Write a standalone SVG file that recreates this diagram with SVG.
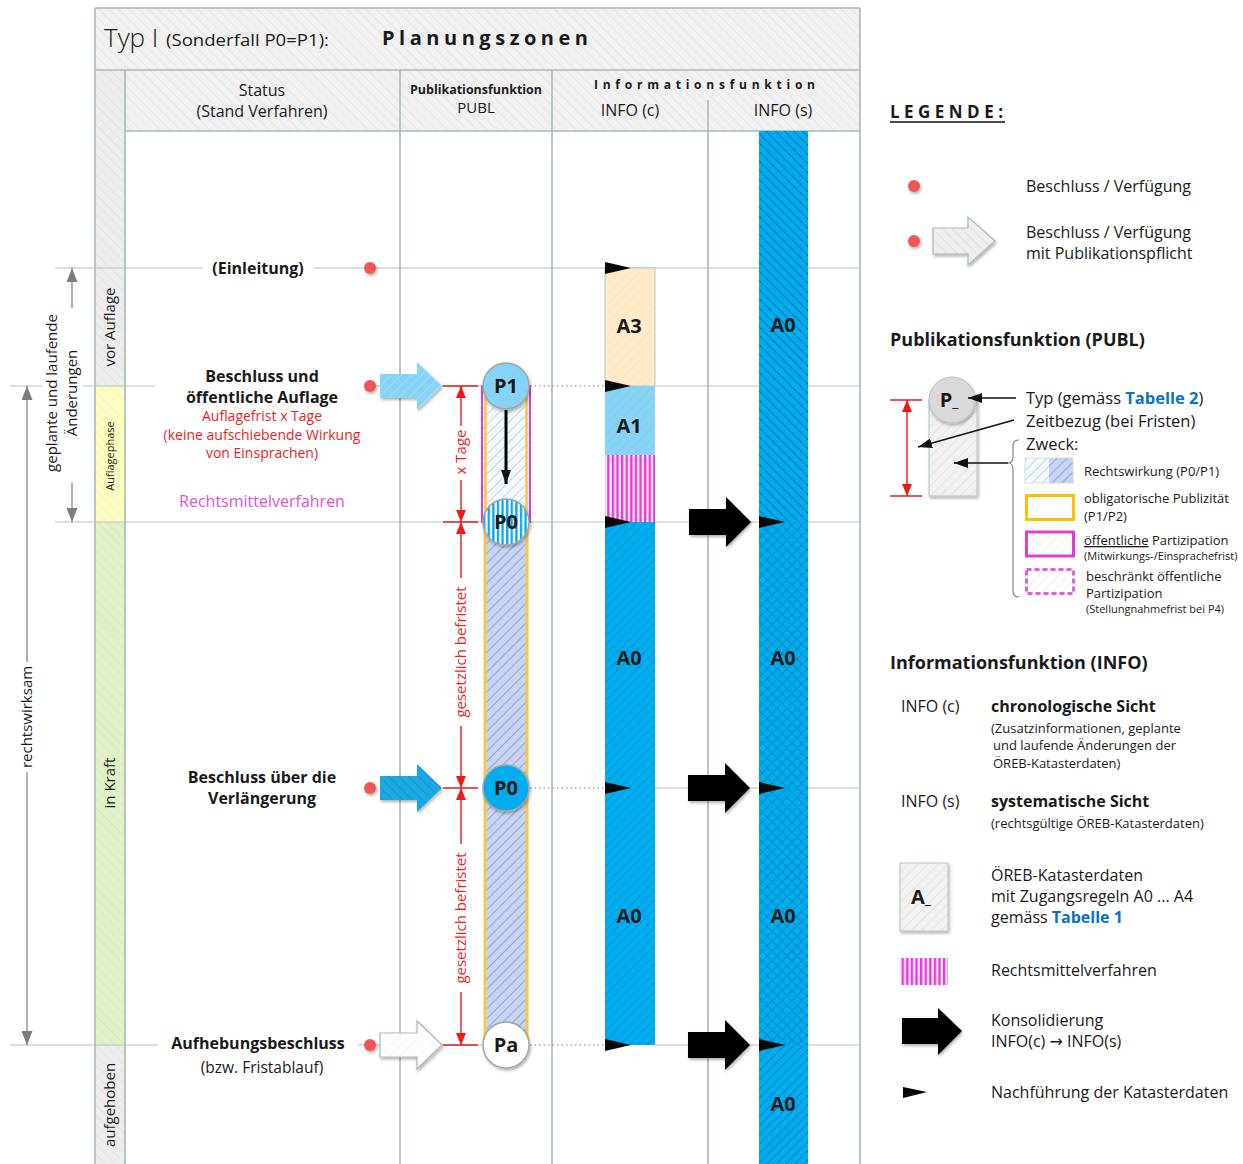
<svg xmlns="http://www.w3.org/2000/svg" width="1243" height="1164" viewBox="0 0 1243 1164">
<style>
text{font-family:"Open Sans","Noto Sans","DejaVu Sans",sans-serif;fill:#1a1a1a;font-size:16px}
.b{font-weight:700}
.c{text-anchor:middle}
.red{fill:#f01c1c}
.grid{stroke:#b4c4bc;stroke-width:1.2;fill:none}
.vl{stroke:#a8bab2;stroke-width:1.6;fill:none}
.dot{fill:#f05656;filter:url(#sh)}
.dotted{stroke:#7a8a84;stroke-width:1.2;stroke-dasharray:1.5 3;fill:none}
.rl{stroke:#f01818;stroke-width:1.4;fill:none}
.gl{stroke:#7d7d7d;stroke-width:1.2;fill:none}
.lbl{font-size:20px;font-weight:700;text-anchor:middle}
.circ{stroke:#9aa7a2;stroke-width:1.5;filter:url(#sh)}
.small{font-size:13px}
.tiny{font-size:11px}
.dimt{font-size:15px}
</style>
<defs>
<filter id="sh" x="-30%" y="-30%" width="170%" height="170%"><feDropShadow dx="1.2" dy="2" stdDeviation="1.5" flood-color="#000" flood-opacity="0.3"/></filter>
<pattern id="pHead" width="7" height="7" patternUnits="userSpaceOnUse" patternTransform="rotate(-45)"><rect width="7" height="7" fill="#f1f1f1"/><line x1="0" y1="0" x2="0" y2="7" stroke="#e3e3e3" stroke-width="1.5"/></pattern>
<pattern id="pGray" width="7" height="7" patternUnits="userSpaceOnUse" patternTransform="rotate(-45)"><rect width="7" height="7" fill="#ededed"/><line x1="0" y1="0" x2="0" y2="7" stroke="#e0e0e0" stroke-width="1.5"/></pattern>
<pattern id="pYel" width="7" height="7" patternUnits="userSpaceOnUse" patternTransform="rotate(-45)"><rect width="7" height="7" fill="#fdfdc2"/><line x1="0" y1="0" x2="0" y2="7" stroke="#f5f5b4" stroke-width="1.5"/></pattern>
<pattern id="pGrn" width="7" height="7" patternUnits="userSpaceOnUse" patternTransform="rotate(-45)"><rect width="7" height="7" fill="#e0f0c8"/><line x1="0" y1="0" x2="0" y2="7" stroke="#d4e8b8" stroke-width="1.5"/></pattern>
<pattern id="pLB" width="7" height="7" patternUnits="userSpaceOnUse" patternTransform="rotate(45)"><rect width="7" height="7" fill="#f4f8fb"/><line x1="0" y1="0" x2="0" y2="7" stroke="#a9cde6" stroke-width="1.5"/></pattern>
<pattern id="pPB" width="7" height="7" patternUnits="userSpaceOnUse" patternTransform="rotate(45)"><rect width="7" height="7" fill="#c8d4f2"/><line x1="0" y1="0" x2="0" y2="7" stroke="#7e93dd" stroke-width="1.5"/></pattern>
<pattern id="pA3" width="7" height="7" patternUnits="userSpaceOnUse" patternTransform="rotate(45)"><rect width="7" height="7" fill="#fdebca"/><line x1="0" y1="0" x2="0" y2="7" stroke="#fbe4bc" stroke-width="1.5"/></pattern>
<pattern id="pA1" width="7" height="7" patternUnits="userSpaceOnUse" patternTransform="rotate(45)"><rect width="7" height="7" fill="#88d4f6"/><line x1="0" y1="0" x2="0" y2="7" stroke="#7ccbee" stroke-width="1.5"/></pattern>
<pattern id="pBA" width="7" height="7" patternUnits="userSpaceOnUse" patternTransform="rotate(45)"><rect width="7" height="7" fill="#88d4f6"/><line x1="0" y1="0" x2="0" y2="7" stroke="#a6e0f8" stroke-width="1.5"/></pattern>
<pattern id="pBA2" width="7" height="7" patternUnits="userSpaceOnUse" patternTransform="rotate(-45)"><rect width="7" height="7" fill="#1ca8e2"/><line x1="0" y1="0" x2="0" y2="7" stroke="#1690c8" stroke-width="1.5"/></pattern>
<pattern id="pWA" width="7" height="7" patternUnits="userSpaceOnUse" patternTransform="rotate(45)"><rect width="7" height="7" fill="#ffffff"/><line x1="0" y1="0" x2="0" y2="7" stroke="#f0f0f0" stroke-width="1.5"/></pattern>
<pattern id="pLG" width="7" height="7" patternUnits="userSpaceOnUse" patternTransform="rotate(-45)"><rect width="7" height="7" fill="#eef0ef"/><line x1="0" y1="0" x2="0" y2="7" stroke="#d6dcd9" stroke-width="1.5"/></pattern>
<pattern id="pLG2" width="7" height="7" patternUnits="userSpaceOnUse" patternTransform="rotate(45)"><rect width="7" height="7" fill="#f1f1f1"/><line x1="0" y1="0" x2="0" y2="7" stroke="#e0e0e0" stroke-width="1.5"/></pattern>
<pattern id="pFaint" width="7" height="7" patternUnits="userSpaceOnUse" patternTransform="rotate(45)"><rect width="7" height="7" fill="#ffffff"/><line x1="0" y1="0" x2="0" y2="7" stroke="#ececec" stroke-width="1.5"/></pattern>
<pattern id="pC" width="6.5" height="6.5" patternUnits="userSpaceOnUse" patternTransform="rotate(45)"><rect width="6.5" height="6.5" fill="#00aeef"/><line x1="0" y1="0" x2="0" y2="6.5" stroke="#0c86c2" stroke-width="1.4"/></pattern>
<pattern id="pS1" width="6.5" height="6.5" patternUnits="userSpaceOnUse" patternTransform="rotate(-45)"><rect width="6.5" height="6.5" fill="#00aeef"/><line x1="0" y1="0" x2="0" y2="6.5" stroke="#0b5f92" stroke-width="1.5"/></pattern>
<pattern id="pS2" width="7" height="7" patternUnits="userSpaceOnUse" patternTransform="rotate(45)"><rect width="7" height="7" fill="#00aeef"/><line x1="0" y1="0" x2="0" y2="7" stroke="#0b6ea6" stroke-width="1.1"/><line x1="0" y1="0" x2="7" y2="0" stroke="#0b6ea6" stroke-width="1.1"/></pattern>
<pattern id="pS3" width="6.5" height="6.5" patternUnits="userSpaceOnUse" patternTransform="rotate(45)"><rect width="6.5" height="6.5" fill="#00aeef"/><line x1="0" y1="0" x2="0" y2="6.5" stroke="#0b6ea6" stroke-width="1.4"/></pattern>
<pattern id="pMag" width="4.6" height="10" patternUnits="userSpaceOnUse"><rect width="4.6" height="10" fill="#fbe6f8"/><rect width="2.3" height="10" fill="#e63ad6"/></pattern>
<pattern id="pStr" width="4.6" height="10" patternUnits="userSpaceOnUse" x="506"><rect width="4.6" height="10" fill="#ffffff"/><rect width="2.4" height="10" fill="#10a8e8"/></pattern>
<marker id="mR" viewBox="0 0 12 10" refX="12" refY="5" markerWidth="12" markerHeight="10" markerUnits="userSpaceOnUse" orient="auto-start-reverse"><path d="M0,0 L12,5 L0,10 Z" fill="#f01818"/></marker>
<marker id="mG" viewBox="0 0 14 11" refX="14" refY="5.5" markerWidth="14" markerHeight="11" markerUnits="userSpaceOnUse" orient="auto-start-reverse"><path d="M0,0 L14,5.5 L0,11 Z" fill="#7d7d7d"/></marker>
<marker id="mK" viewBox="0 0 14 10" refX="14" refY="5" markerWidth="14" markerHeight="10" markerUnits="userSpaceOnUse" orient="auto-start-reverse"><path d="M0,0 L14,5 L0,10 Z" fill="#111"/></marker>
<path id="tri" d="M0,-6 L26,0 L0,6 Z" fill="#0a0a0a"/>
<path id="karr" d="M-62,-13 L-25,-13 L-25,-25 L0,0 L-25,25 L-25,13 L-62,13 Z" fill="#050505"/>
<path id="earr" d="M0,-12 L37,-12 L37,-24 L62,0 L37,24 L37,12 L0,12 Z"/>
</defs>

<rect width="1243" height="1164" fill="#ffffff"/>

<!-- table frame -->
<g id="table">
  <rect x="95" y="8" width="765" height="62" fill="url(#pHead)"/>
  <rect x="125" y="70" width="735" height="61" fill="url(#pHead)"/>
  <rect x="95" y="70" width="30" height="316" fill="url(#pGray)"/>
  <rect x="95" y="386" width="30" height="136" fill="url(#pYel)"/>
  <rect x="95" y="522" width="30" height="523" fill="url(#pGrn)"/>
  <rect x="95" y="1045" width="30" height="119" fill="url(#pGray)"/>
  <path class="vl" d="M95,8 V1164 M860,8 V1164 M125,70 V1164 M400,70 V1164 M552,70 V1164 M708,100 V1164 M95,8 H860 M95,70 H860 M125,131 H860"/>
</g>

<g id="header">
  <text x="104" y="47" style="font-size:26px;font-weight:300">Typ I</text>
  <text x="166" y="46" style="font-size:17px" textLength="163" lengthAdjust="spacingAndGlyphs">(Sonderfall P0=P1):</text>
  <text x="382" y="45" class="b" style="font-size:20px" textLength="206" lengthAdjust="spacing">Planungszonen</text>
  <text x="262" y="96" class="c">Status</text>
  <text x="262" y="117" class="c">(Stand Verfahren)</text>
  <text x="476" y="94" class="c b" style="font-size:12.5px" textLength="132" lengthAdjust="spacingAndGlyphs">Publikationsfunktion</text>
  <text x="476" y="113" class="c" style="font-size:15px">PUBL</text>
  <text x="594" y="89" class="b" style="font-size:12px" textLength="221" lengthAdjust="spacing">Informationsfunktion</text>
  <text x="630" y="116" class="c">INFO (c)</text>
  <text x="783" y="116" class="c">INFO (s)</text>
</g>

<!-- grid rows -->
<g id="rows">
  <path class="grid" d="M55,268 H203 M314,268 H860"/>
  <path class="grid" d="M10,386 H42 M83,386 H155 M364,386 H484 M655,386 H860"/>
  <path class="grid" d="M55,522 H860"/>
  <path class="grid" d="M655,788 H860"/>
  <path class="grid" d="M10,1045 H158 M358,1045 H484 M655,1045 H860"/>
  <path class="dotted" d="M530,386 H605 M530,788 H605 M530,1045 H605"/>
</g>

<!-- left dimensions -->
<g id="dims-left">
  <line class="gl" x1="72" y1="308" x2="72" y2="268" marker-end="url(#mG)"/>
  <line class="gl" x1="72" y1="483" x2="72" y2="522" marker-end="url(#mG)"/>
  <text x="57" y="393" class="c dimt" transform="rotate(-90 57 393)">geplante und laufende</text>
  <text x="77" y="393" class="c dimt" transform="rotate(-90 77 393)">Änderungen</text>
  <line class="gl" x1="27" y1="662" x2="27" y2="386" marker-end="url(#mG)"/>
  <line class="gl" x1="27" y1="772" x2="27" y2="1045" marker-end="url(#mG)"/>
  <text x="32" y="717" class="c dimt" transform="rotate(-90 32 717)">rechtswirksam</text>
  <text x="115" y="327" class="c dimt" transform="rotate(-90 115 327)">vor Auflage</text>
  <text x="114" y="456" class="c" style="font-size:11px" transform="rotate(-90 114 456)">Auflagephase</text>
  <text x="115" y="783" class="c dimt" transform="rotate(-90 115 783)">in Kraft</text>
  <text x="115" y="1105" class="c dimt" transform="rotate(-90 115 1105)">aufgehoben</text>
</g>

<!-- event labels -->
<g id="ev-einleitung">
  <text x="258" y="274" class="c b">(Einleitung)</text>
  <circle class="dot" cx="370" cy="268" r="6"/>
</g>
<g id="ev-auflage">
  <text x="262" y="382" class="c b">Beschluss und</text>
  <text x="262" y="403" class="c b">öffentliche Auflage</text>
  <text x="262" y="421" class="c red" style="font-size:14px">Auflagefrist x Tage</text>
  <text x="262" y="440" class="c red" style="font-size:14px">(keine aufschiebende Wirkung</text>
  <text x="262" y="458" class="c red" style="font-size:14px">von Einsprachen)</text>
  <text x="262" y="507" class="c" style="fill:#e24fd6">Rechtsmittelverfahren</text>
  <circle class="dot" cx="370" cy="386" r="6"/>
  <use href="#earr" x="380" y="386" fill="url(#pBA)" filter="url(#sh)"/>
</g>
<g id="ev-verlaengerung">
  <text x="262" y="783" class="c b">Beschluss über die</text>
  <text x="262" y="804" class="c b">Verlängerung</text>
  <circle class="dot" cx="370" cy="788" r="6"/>
  <use href="#earr" x="380" y="788" fill="url(#pBA2)" filter="url(#sh)"/>
</g>
<g id="ev-aufhebung">
  <text x="258" y="1049" class="c b">Aufhebungsbeschluss</text>
  <text x="262" y="1073" class="c" style="font-size:15.5px">(bzw. Fristablauf)</text>
  <circle class="dot" cx="370" cy="1045" r="6"/>
  <use href="#earr" x="380" y="1045" fill="url(#pWA)" stroke="#a8bab2" stroke-width="1.2" filter="url(#sh)"/>
</g>

<!-- red dimension lines -->
<g id="dims-red">
  <path class="rl" d="M443,386 H478 M443,522 H478 M443,788 H478 M443,1045 H478"/>
  <line class="rl" x1="461" y1="426" x2="461" y2="386" marker-end="url(#mR)"/>
  <line class="rl" x1="461" y1="480" x2="461" y2="522" marker-end="url(#mR)"/>
  <text x="466" y="452" class="c red" style="font-size:15px" transform="rotate(-90 466 452)">x Tage</text>
  <line class="rl" x1="461" y1="578" x2="461" y2="522" marker-end="url(#mR)"/>
  <line class="rl" x1="461" y1="726" x2="461" y2="788" marker-end="url(#mR)"/>
  <text x="466" y="652" class="c red" style="font-size:15px" transform="rotate(-90 466 652)">gesetzlich befristet</text>
  <line class="rl" x1="461" y1="844" x2="461" y2="788" marker-end="url(#mR)"/>
  <line class="rl" x1="461" y1="992" x2="461" y2="1045" marker-end="url(#mR)"/>
  <text x="466" y="918" class="c red" style="font-size:15px" transform="rotate(-90 466 918)">gesetzlich befristet</text>
</g>

<!-- PUBL bar -->
<g id="publ-bar">
  <rect x="485" y="522" width="42" height="523" fill="url(#pPB)" stroke="#f5c84a" stroke-width="3"/>
  <rect x="482" y="386" width="48" height="136" fill="url(#pLB)" stroke="#e23cd6" stroke-width="2"/>
  <path d="M485.5,386 V522 M526.5,386 V522" stroke="#f7c948" stroke-width="2.5"/>
  <line x1="506" y1="410" x2="506" y2="484" stroke="#000" stroke-width="3" marker-end="url(#mK)"/>
</g>
<g id="node-P1">
  <circle class="circ" cx="506" cy="386" r="23" fill="#87d3f5"/>
  <text x="506" y="393" class="lbl">P1</text>
</g>
<g id="node-P0a">
  <circle class="circ" cx="506" cy="522" r="23" fill="url(#pStr)"/>
  <text x="506" y="529" class="lbl">P0</text>
</g>
<g id="node-P0b">
  <circle class="circ" cx="506" cy="788" r="23" fill="#00aeef"/>
  <text x="506" y="795" class="lbl">P0</text>
</g>
<g id="node-Pa">
  <circle class="circ" cx="506" cy="1045" r="23" fill="#ffffff"/>
  <text x="506" y="1052" class="lbl">Pa</text>
</g>

<!-- INFO(c) -->
<g id="info-c">
  <rect x="605" y="268" width="50" height="118" fill="url(#pA3)" stroke="#b8c4be"/>
  <rect x="605" y="386" width="50" height="69" fill="url(#pA1)"/>
  <rect x="605" y="455" width="50" height="67" fill="url(#pMag)"/>
  <rect x="605" y="522" width="50" height="523" fill="url(#pC)"/>
  <text x="629" y="333" class="lbl">A3</text>
  <text x="629" y="433" class="lbl">A1</text>
  <text x="629" y="665" class="lbl">A0</text>
  <text x="629" y="923" class="lbl">A0</text>
</g>

<!-- INFO(s) -->
<g id="info-s">
  <rect x="759" y="131" width="49" height="391" fill="url(#pS1)"/>
  <rect x="759" y="522" width="49" height="523" fill="url(#pS2)"/>
  <rect x="759" y="1045" width="49" height="119" fill="url(#pS3)"/>
  <text x="783" y="332" class="lbl">A0</text>
  <text x="783" y="665" class="lbl">A0</text>
  <text x="783" y="923" class="lbl">A0</text>
  <text x="783" y="1111" class="lbl">A0</text>
</g>

<!-- connectors: updates and consolidation -->
<g id="connectors">
  <use href="#tri" x="605" y="268"/>
  <use href="#tri" x="605" y="386"/>
  <use href="#tri" x="605" y="522"/>
  <use href="#tri" x="605" y="788"/>
  <use href="#tri" x="605" y="1045"/>
  <use href="#tri" x="759" y="522"/>
  <use href="#tri" x="759" y="788"/>
  <use href="#tri" x="759" y="1045"/>
  <use href="#karr" x="751" y="522" filter="url(#sh)"/>
  <use href="#karr" x="750" y="788" filter="url(#sh)"/>
  <use href="#karr" x="750" y="1045" filter="url(#sh)"/>
</g>

<!-- legend -->
<g id="legend-head">
  <text x="890" y="118" class="b" style="font-size:17px" textLength="113" lengthAdjust="spacing">LEGENDE:</text>
  <line x1="890" y1="122" x2="1005" y2="122" stroke="#111" stroke-width="1.5"/>
  <circle class="dot" cx="914" cy="186" r="6"/>
  <text x="1026" y="192">Beschluss / Verfügung</text>
  <circle class="dot" cx="914" cy="241" r="6"/>
  <path d="M933,228 H968 V217 L995,241 L968,265 V254 H933 Z" fill="url(#pLG)" stroke="#a8bab2" stroke-width="1.2" filter="url(#sh)"/>
  <text x="1026" y="238">Beschluss / Verfügung</text>
  <text x="1026" y="259">mit Publikationspflicht</text>
</g>

<g id="legend-publ">
  <text x="890" y="346" class="b" style="font-size:18px">Publikationsfunktion (PUBL)</text>
  <rect x="929" y="400" width="48" height="96" fill="url(#pLG2)" stroke="#b4c4bc" filter="url(#sh)"/>
  <circle cx="952" cy="400" r="23" fill="#d9d9d9" stroke="#bcbcbc" filter="url(#sh)"/>
  <text x="949" y="407" class="lbl">P<tspan style="font-size:14px;font-weight:400">_</tspan></text>
  <path class="rl" d="M890,400 H922 M890,496 H922"/>
  <line class="rl" x1="907" y1="448" x2="907" y2="400" marker-end="url(#mR)"/>
  <line class="rl" x1="907" y1="448" x2="907" y2="496" marker-end="url(#mR)"/>
  <line x1="1016" y1="398" x2="968" y2="398" stroke="#111" stroke-width="1.4" marker-end="url(#mK)"/>
  <line x1="1014" y1="420" x2="918" y2="447" stroke="#111" stroke-width="1.4" marker-end="url(#mK)"/>
  <line x1="1008" y1="463" x2="954" y2="463" stroke="#111" stroke-width="1.4" marker-end="url(#mK)"/>
  <path d="M1019,440 Q1013,440 1013,446 V457 Q1013,463 1008,463 Q1013,463 1013,469 V591 Q1013,597 1019,597" stroke="#888" stroke-width="1.2" fill="none"/>
  <text x="1026" y="404" style="font-size:16.5px">Typ (gemäss <tspan class="b" style="fill:#0a72c4">Tabelle 2</tspan>)</text>
  <text x="1026" y="427" style="font-size:16.5px">Zeitbezug (bei Fristen)</text>
  <text x="1026" y="450" style="font-size:16.5px">Zweck:</text>
  <rect x="1025" y="458" width="24" height="25" fill="url(#pLB)"/>
  <rect x="1049" y="458" width="24" height="25" fill="url(#pPB)"/>
  <rect x="1025" y="458" width="48" height="25" fill="none" stroke="#d8dde0"/>
  <text x="1084" y="476" class="small">Rechtswirkung (P0/P1)</text>
  <rect x="1026.5" y="495.5" width="47" height="24" fill="#ffffff" stroke="#ffc000" stroke-width="3"/>
  <text x="1084" y="503" class="small">obligatorische Publizität</text>
  <text x="1084" y="521" class="small">(P1/P2)</text>
  <rect x="1026.5" y="532" width="47" height="24" fill="url(#pFaint)" stroke="#e23cd6" stroke-width="3"/>
  <text x="1084" y="545" class="small"><tspan text-decoration="underline">öffentliche</tspan> Partizipation</text>
  <text x="1084" y="560" class="tiny">(Mitwirkungs-/Einsprachefrist)</text>
  <rect x="1026.5" y="569.5" width="47" height="24" fill="url(#pFaint)" stroke="#e85ce0" stroke-width="3" stroke-dasharray="5 3"/>
  <text x="1086" y="581" class="small">beschränkt öffentliche</text>
  <text x="1086" y="598" class="small">Partizipation</text>
  <text x="1086" y="613" class="tiny">(Stellungnahmefrist bei P4)</text>
</g>

<g id="legend-info">
  <text x="890" y="669" class="b" style="font-size:18px">Informationsfunktion (INFO)</text>
  <text x="901" y="712">INFO (c)</text>
  <text x="991" y="712" class="b">chronologische Sicht</text>
  <text x="991" y="733" class="small">(Zusatzinformationen, geplante</text>
  <text x="993" y="750" class="small">und laufende Änderungen der</text>
  <text x="993" y="768" class="small">ÖREB-Katasterdaten)</text>
  <text x="901" y="807">INFO (s)</text>
  <text x="991" y="807" class="b">systematische Sicht</text>
  <text x="991" y="828" class="small">(rechtsgültige ÖREB-Katasterdaten)</text>
  <rect x="900" y="863" width="48" height="68" fill="url(#pLG2)" stroke="#b4c4bc" filter="url(#sh)"/>
  <text x="921" y="904" class="lbl">A<tspan style="font-size:14px;font-weight:400">_</tspan></text>
  <text x="991" y="881">ÖREB-Katasterdaten</text>
  <text x="991" y="902">mit Zugangsregeln A0 ... A4</text>
  <text x="991" y="923">gemäss <tspan class="b" style="fill:#0a72c4">Tabelle 1</tspan></text>
  <rect x="900" y="958" width="48" height="27" fill="url(#pMag)"/>
  <text x="991" y="976">Rechtsmittelverfahren</text>
  <path d="M902,1018 H938 V1008 L962,1031 L938,1055 V1044 H902 Z" fill="#050505" filter="url(#sh)"/>
  <text x="991" y="1026">Konsolidierung</text>
  <text x="991" y="1047">INFO(c) → INFO(s)</text>
  <path d="M903,1087 L927,1092 L903,1098 Z" fill="#050505"/>
  <text x="991" y="1098">Nachführung der Katasterdaten</text>
</g>
</svg>
